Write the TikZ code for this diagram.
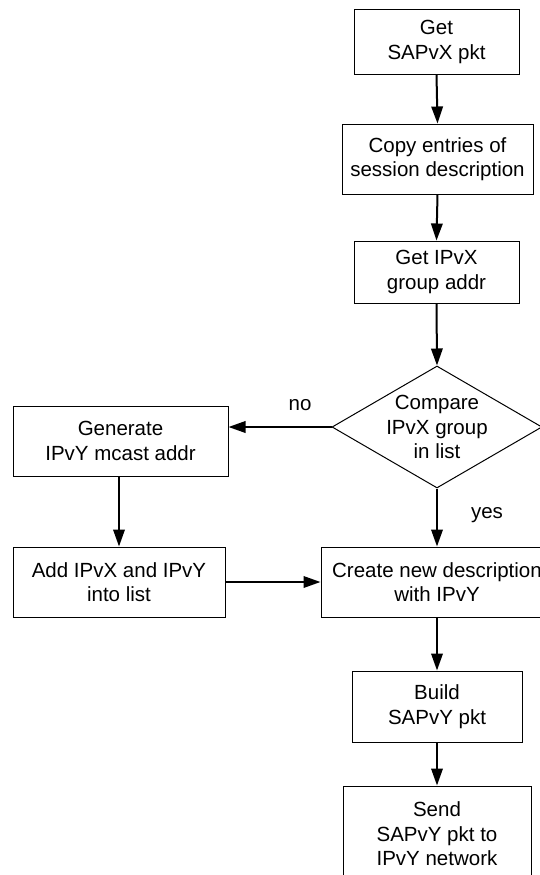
\documentclass[tikz,border=0pt]{standalone}
\usepackage{fontspec}
\setmainfont{Liberation Sans}
\usetikzlibrary{arrows.meta,shapes.geometric}
\begin{document}
\begin{tikzpicture}[x=1pt,y=-1pt,
  every node/.style={font=\fontsize{20.5}{24.5}\selectfont, align=center},
  stepbox/.style={draw, line width=1pt, rectangle, inner sep=0pt},
  decision/.style={draw, line width=1pt, diamond, inner sep=0pt,
    minimum width=210pt, minimum height=122pt},
  flow/.style={line width=2pt, -{Triangle[length=17pt,width=11.5pt]}},
  tag/.style={inner sep=0pt}]
\fill[white] (0,0) rectangle (539,875);
\useasboundingbox (0,0) rectangle (539,875);

% process boxes
\node[stepbox, minimum width=165pt, minimum height=64pt] (get)   at (436.5,42)  {Get\\SAPvX pkt};
\node[stepbox, minimum width=191pt, minimum height=70pt] (copy)  at (437.5,159) {Copy entries of\\session description};
\node[stepbox, minimum width=165pt, minimum height=62pt] (grp)   at (436.5,272) {Get IPvX\\group addr};
\node[decision] (cmp) at (437,427) {};
\node[tag] (cmptext) at (cmp.center) {Compare\\IPvX group\\in list};
\node[stepbox, minimum width=215pt, minimum height=70pt] (gen)   at (120.5,441) {Generate\\IPvY mcast addr};
\node[stepbox, minimum width=212pt, minimum height=70pt] (add)   at (119,582)   {Add IPvX and IPvY\\into list};
\node[stepbox, minimum width=232pt, minimum height=70pt] (new)   at (437,582)   {Create new description\\with IPvY};
\node[stepbox, minimum width=170pt, minimum height=71pt] (build) at (437,706.5) {Build\\SAPvY pkt};
\node[stepbox, minimum width=188pt, minimum height=96pt] (send)  at (437,834)   {Send\\SAPvY pkt to\\IPvY network};

% branch labels
\node[tag] (no)  at (300,405) {no};
\node[tag] (yes) at (487,515) {yes};

% connectors
\draw[flow] (get.south) -- (copy.north);
\draw[flow] (copy.south) -- (grp.north);
\draw[flow] (grp.south) -- (cmp.north);
\draw[flow] (cmp.west) -- (cmp.west -| gen.east);
\draw[flow] (cmp.south) -- (new.north);
\draw[flow] (gen.south -| add.north) -- (add.north);
\draw[flow] (add.east) -- (new.west);
\draw[flow] (new.south) -- (build.north);
\draw[flow] (build.south) -- (send.north);
\end{tikzpicture}
\end{document}
